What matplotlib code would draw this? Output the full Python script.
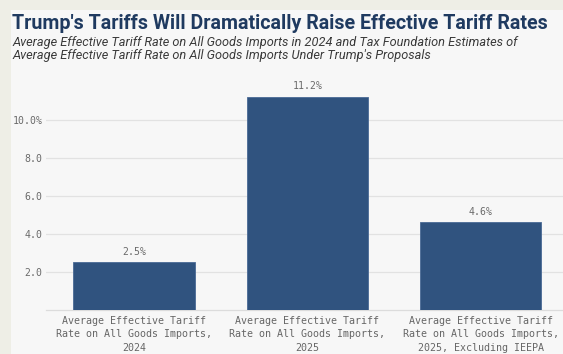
import matplotlib.pyplot as plt
from matplotlib.patches import Rectangle

# dados
categorias = [
    "Average Effective Tariff\nRate on All Goods Imports,\n2024",
    "Average Effective Tariff\nRate on All Goods Imports,\n2025",
    "Average Effective Tariff\nRate on All Goods Imports,\n2025, Excluding IEEPA",
]
valores = [2.5, 11.2, 4.6]
rotulos_valores = ["2.5%", "11.2%", "4.6%"]
yticks = [2, 4, 6, 8, 10]
ytick_labels = ["2.0", "4.0", "6.0", "8.0", "10.0%"]

titulo = "Trump's Tariffs Will Dramatically Raise Effective Tariff Rates"
subtitulo = ("Average Effective Tariff Rate on All Goods Imports in 2024 and Tax Foundation Estimates of\n"
             "Average Effective Tariff Rate on All Goods Imports Under Trump's Proposals")

W, H = 563, 354
fig = plt.figure(figsize=(W / 100, H / 100), dpi=100)
fig.patch.set_facecolor("#eeeee6")

# cartao claro
fig.patches.append(Rectangle((11 / W, 0), 1 - 11 / W, 1 - 10 / H, transform=fig.transFigure,
                             facecolor="#f7f7f7", edgecolor="none", zorder=-10))

# eixo: base em y=310 px, topo em y=90 px, esquerda em x=46 px
ax = fig.add_axes([46 / W, (H - 310) / H, 1 - 46 / W, 220 / H])
ax.set_facecolor("none")
ax.set_xlim(-88 / 173.4, (W - 46) / 173.4 - 88 / 173.4)
ax.set_ylim(0, 220 / 19.05)

x = range(len(valores))
ax.bar(x, valores, width=0.70, color="#30537f", edgecolor="#4a6a95", linewidth=0.6, zorder=3)

mono = "DejaVu Sans Mono"
for i, (v, r) in enumerate(zip(valores, rotulos_valores)):
    ax.text(i, v + 0.3, r, ha="center", va="bottom", fontsize=7.1, family=mono, color="#6a6a6a")

ax.set_yticks(yticks)
ax.set_yticklabels(ytick_labels, family=mono, fontsize=7.1, color="#6a6a6a")
ax.set_xticks(list(x))
ax.set_xticklabels(categorias, family=mono, fontsize=7.2, color="#666666", linespacing=1.4)
ax.tick_params(axis="y", length=0, pad=2.5)
ax.tick_params(axis="x", length=0, pad=4.5)
ax.grid(axis="y", color="#e2e2e2", linewidth=0.9, zorder=0)
for s in ["top", "right", "left"]:
    ax.spines[s].set_visible(False)
ax.spines["bottom"].set_color("#dcdcdc")
ax.spines["bottom"].set_linewidth(0.9)

fig.text(12 / W, 1 - 29 / H, titulo, fontsize=14.1, fontweight="bold", family="Roboto",
         color="#1f3a60", ha="left", va="baseline")
fig.text(12 / W, 1 - 36 / H, subtitulo, fontsize=9.2, style="italic", family="Roboto",
         color="#3a3a3a", ha="left", va="top", linespacing=1.0)

fig.savefig("out.png", dpi=100, facecolor=fig.get_facecolor())
